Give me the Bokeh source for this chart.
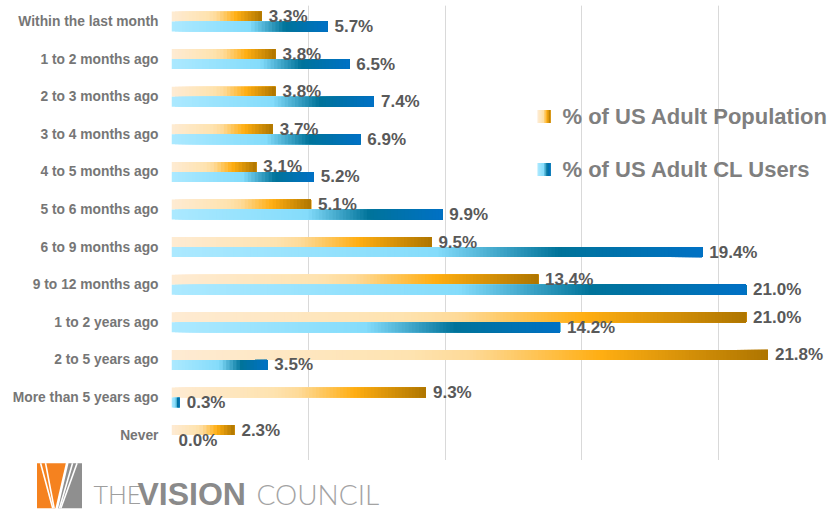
from bokeh.plotting import figure
from bokeh.models import Range1d, FixedTicker, ColumnDataSource, Label, BoxAnnotation, Grid
from bokeh.layouts import column
from bokeh.embed import file_html
from bokeh.resources import INLINE
from bokeh.core.properties import value

# ---------------- data ----------------
categories = [
    "Within the last month", "1 to 2 months ago", "2 to 3 months ago",
    "3 to 4 months ago", "4 to 5 months ago", "5 to 6 months ago",
    "6 to 9 months ago", "9 to 12 months ago", "1 to 2 years ago",
    "2 to 5 years ago", "More than 5 years ago", "Never",
]
population = [3.3, 3.8, 3.8, 3.7, 3.1, 5.1, 9.5, 13.4, 21.0, 21.8, 9.3, 2.3]
cl_users = [5.7, 6.5, 7.4, 6.9, 5.2, 9.9, 19.4, 21.0, 14.2, 3.5, 0.3, 0.0]
series_names = ["% of US Adult Population", "% of US Adult CL Users"]
grid_ticks = [0, 5, 10, 15, 20]

# ---------------- styles ----------------
ORANGE_STOPS = [(0.0, "#FEEBD3"), (0.4, "#FEE3B0"), (0.5, "#FEDA98"),
                (0.72, "#FFAE12"), (1.0, "#AE7500")]
BLUE_STOPS = [(0.0, "#ACE9FF"), (0.5, "#84DCFB"), (0.73, "#00739A"),
              (1.0, "#0071C5")]
FONT = "Liberation Sans"


def hex2rgb(h):
    h = h.lstrip("#")
    return tuple(int(h[i:i + 2], 16) for i in (0, 2, 4))


def grad(stops, t):
    for (t0, c0), (t1, c1) in zip(stops[:-1], stops[1:]):
        if t <= t1:
            f = 0 if t1 == t0 else (t - t0) / (t1 - t0)
            a, b = hex2rgb(c0), hex2rgb(c1)
            return "#%02X%02X%02X" % tuple(round(a[i] + (b[i] - a[i]) * f) for i in range(3))
    return stops[-1][1]


W = 837
FRAME_LEFT = 171
FRAME_TOP = 5
MAIN_H = 460
LOGO_H = 53
PX_X = 27.36          # pixels per percentage point
PX_Y = 37.6           # pixels per category row
BAR_H = 10 / PX_Y

n = len(categories)
rows = [n - 1 - i for i in range(n)]

frame_h = MAIN_H - FRAME_TOP
x_end = (W - FRAME_LEFT) / PX_X
y_end = (n - 1) + 16 / PX_Y
y_start = y_end - frame_h / PX_Y

p = figure(width=W, height=MAIN_H,
           x_range=Range1d(0, x_end), y_range=Range1d(y_start, y_end),
           x_axis_location=None,
           output_backend="svg", toolbar_location=None,
           min_border_left=FRAME_LEFT, min_border_right=0,
           min_border_top=FRAME_TOP, min_border_bottom=0)
p.outline_line_color = None
p.ygrid.grid_line_color = None
p.add_layout(Grid(dimension=0, ticker=FixedTicker(ticks=grid_ticks),
                  grid_line_color="#D9D9D9", grid_line_width=1))

yax = p.yaxis[0]
yax.ticker = FixedTicker(ticks=rows)
yax.major_label_overrides = {r: c for r, c in zip(rows, categories)}
yax.axis_line_color = None
yax.major_tick_line_color = None
yax.minor_tick_line_color = None
yax.major_tick_out = 0
yax.major_tick_in = 0
yax.major_label_standoff = 13
yax.major_label_text_font = FONT
yax.major_label_text_font_style = "bold"
yax.major_label_text_font_size = "13.8px"
yax.major_label_text_color = "#767676"


def gradient_source(vals, offset, stops):
    ys, lefts, rights, colors = [], [], [], []
    for r, v in zip(rows, vals):
        m = max(6, int(v * 8))
        for k in range(m):
            ys.append(r + offset)
            lefts.append(v * k / m)
            rights.append(v)
            colors.append(grad(stops, (k + 0.5) / m))
    return ColumnDataSource(dict(y=ys, left=lefts, right=rights, color=colors))


p.hbar(y="y", left="left", right="right", height=BAR_H, fill_color="color",
       line_color=None, source=gradient_source(population, BAR_H / 2, ORANGE_STOPS))
p.hbar(y="y", left="left", right="right", height=BAR_H, fill_color="color",
       line_color=None, source=gradient_source(cl_users, -BAR_H / 2, BLUE_STOPS))

for vals, off in ((population, BAR_H / 2), (cl_users, -BAR_H / 2)):
    p.text(x=vals, y=[r + off for r in rows], text=[f"{v:.1f}%" for v in vals],
           x_offset=7, text_baseline="middle", text_align="left",
           text_font=value(FONT), text_font_style="bold", text_font_size="17px",
           text_color="#595959")

# legend (screen units, relative to the frame's bottom-left)
legend_y = [344, 291]
for name, stops, yc in zip(series_names, [ORANGE_STOPS, BLUE_STOPS], legend_y):
    for k in range(8):
        p.add_layout(BoxAnnotation(left=366 + 13 * k / 8, right=379,
                                   bottom=yc - 6.5, top=yc + 6.5,
                                   left_units="screen", right_units="screen",
                                   bottom_units="screen", top_units="screen",
                                   fill_color=grad(stops, (k + 0.5) / 8),
                                   fill_alpha=1, line_color=None))
    p.add_layout(Label(x=391, y=yc, x_units="screen", y_units="screen", text=name,
                       text_font=FONT, text_font_style="bold", text_font_size="22px",
                       text_color="#7F7F7F", text_baseline="middle"))

# ---------------- logo ----------------
logo = figure(width=W, height=LOGO_H, x_range=Range1d(0, W), y_range=Range1d(LOGO_H, 0),
              x_axis_location=None, y_axis_location=None,
              output_backend="svg", toolbar_location=None, min_border=0)
logo.outline_line_color = None
logo.grid.visible = False
for fig in (p, logo):
    try:
        fig.frame_align = False
    except Exception:
        pass

bx, by, bs = 36.5, 2.7, 45


def tr(pts):
    return [bx + u * bs for u, v in pts], [by + v * bs for u, v in pts]


ox, oy = tr([(0, 0), (0.64, 0), (0.41, 1), (0, 1)])
gx, gy = tr([(0.70, 0), (1, 0), (1, 1), (0.47, 1)])
logo.patch(ox, oy, fill_color="#F5821F", line_color=None)
logo.patch(gx, gy, fill_color="#8F8F8F", line_color=None)
stripes = [((0.08, 0), (0.35, 1)), ((0.19, 0), (0.38, 1)),
           ((0.79, 0), (0.50, 1)), ((0.89, 0), (0.53, 1))]
for a, b in stripes:
    sx, sy = tr([a, b])
    logo.line(sx, sy, line_color="white", line_width=1.6)

CAP_MID = 33.5
logo.text(x=[93], y=[CAP_MID], text=["THE"], text_font=value("Lato Light"),
          text_font_size="25px", text_color="#9E9E9E", text_baseline="middle")
logo.text(x=[137], y=[CAP_MID], text=["VISION"], text_font=value(FONT), text_font_style="bold",
          text_font_size="32px", text_color="#8A8A8A", text_baseline="middle")
logo.text(x=[256], y=[CAP_MID], text=["COUNCIL"], text_font=value("Lato Light"),
          text_font_size="28px", text_color="#A3A3A3", text_baseline="middle")

layout = column(p, logo)
open("out.html", "w").write(file_html(layout, INLINE))
